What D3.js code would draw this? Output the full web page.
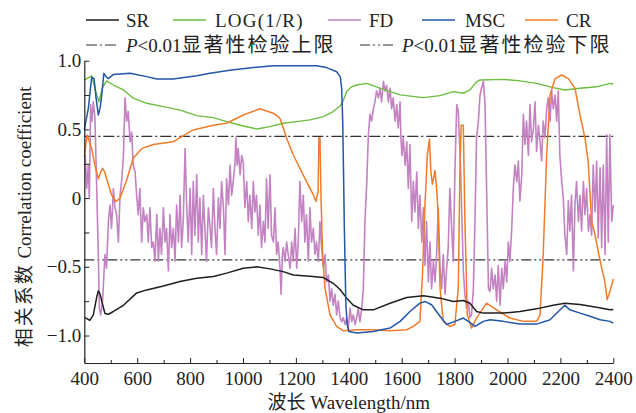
<!DOCTYPE html>
<html>
<head>
<meta charset="utf-8">
<script src="https://cdn.jsdelivr.net/npm/d3@7"></script>
<style>
  body { margin: 0; background: #fff; }
  svg { display: block; }
  text { font-family: "Liberation Serif", "Times New Roman", "Noto Sans CJK SC", serif; fill: #222; }
  .cjk { font-family: "Noto Sans CJK SC", sans-serif; }
</style>
</head>
<body>
<svg id="chart" width="636" height="413"></svg>
<script>
// данные, значения (длина волны нм, коэффициент корреляции)
const srData = [[403,-0.87],[421,-0.89],[434,-0.85],[447,-0.72],[453,-0.675],[460,-0.70],[466,-0.75],[478,-0.84],[491,-0.845],[510,-0.825],[548,-0.78],[598,-0.69],[636,-0.668],[699,-0.64],[762,-0.607],[825,-0.583],[888,-0.57],[938,-0.546],[1001,-0.51],[1052,-0.50],[1102,-0.515],[1152,-0.535],[1190,-0.559],[1253,-0.568],[1304,-0.578],[1341,-0.62],[1367,-0.665],[1392,-0.728],[1417,-0.78],[1455,-0.813],[1493,-0.813],[1556,-0.765],[1619,-0.723],[1682,-0.71],[1745,-0.728],[1795,-0.752],[1833,-0.745],[1858,-0.765],[1883,-0.825],[1909,-0.837],[1984,-0.837],[2047,-0.825],[2110,-0.806],[2173,-0.78],[2217,-0.765],[2274,-0.775],[2337,-0.795],[2387,-0.813],[2400,-0.81]];

const logData = [[400,0.86],[410,0.87],[428,0.89],[440,0.80],[455,0.70],[468,0.80],[484,0.853],[510,0.823],[548,0.787],[585,0.727],[636,0.69],[699,0.666],[762,0.64],[825,0.6],[888,0.586],[938,0.557],[1001,0.525],[1052,0.503],[1102,0.52],[1152,0.545],[1203,0.557],[1253,0.569],[1304,0.593],[1341,0.63],[1367,0.67],[1379,0.71],[1392,0.775],[1410,0.81],[1430,0.823],[1468,0.835],[1518,0.80],[1594,0.751],[1682,0.731],[1745,0.746],[1795,0.775],[1833,0.763],[1858,0.787],[1880,0.84],[1896,0.86],[1984,0.864],[2047,0.853],[2110,0.835],[2173,0.804],[2217,0.787],[2274,0.80],[2337,0.81],[2387,0.835],[2400,0.83]];

const fdData = [[403,0.31],[409,0.07],[415,0.24],[419,0.00],[424,0.68],[429,0.56],[434,0.70],[440,0.59],[447,0.07],[453,-0.41],[457,-0.80],[462,-0.85],[469,-0.75],[478,-0.41],[484,-0.51],[491,-0.17],[497,-0.05],[503,-0.22],[510,0.07],[516,-0.07],[522,-0.12],[529,-0.32],[535,0.02],[541,0.12],[548,0.31],[554,0.73],[560,0.56],[566,0.63],[573,0.41],[579,0.48],[585,0.24],[592,0.19],[598,0.02],[604,-0.12],[610,0.07],[617,-0.32],[623,-0.07],[629,-0.17],[636,-0.12],[642,-0.32],[648,-0.07],[655,-0.36],[661,-0.32],[667,-0.46],[674,-0.12],[680,-0.46],[686,-0.22],[692,-0.41],[699,-0.07],[705,-0.32],[711,-0.22],[718,-0.53],[724,-0.12],[730,-0.36],[737,-0.22],[743,-0.46],[749,-0.05],[756,-0.32],[762,0.02],[768,-0.36],[774,-0.17],[781,0.36],[787,-0.05],[793,-0.32],[800,0.07],[806,-0.41],[812,0.12],[818,-0.27],[825,0.17],[831,-0.32],[837,0.00],[844,-0.41],[850,0.02],[856,-0.22],[862,-0.46],[869,-0.07],[875,-0.2],[881,-0.36],[888,0.07],[894,-0.22],[900,-0.41],[907,0.00],[913,-0.22],[919,0.12],[926,-0.07],[932,-0.41],[938,0.14],[945,-0.05],[951,0.24],[957,0.02],[963,0.12],[970,0.26],[973,0.44],[978,0.24],[982,0.36],[989,0.17],[995,0.31],[1001,0.26],[1007,-0.07],[1014,0.12],[1020,-0.17],[1026,0.02],[1033,-0.22],[1039,0.12],[1045,-0.10],[1051,0.02],[1058,-0.27],[1064,-0.05],[1070,-0.36],[1077,-0.17],[1083,-0.32],[1089,0.14],[1095,-0.22],[1102,0.17],[1108,-0.27],[1115,-0.32],[1121,-0.07],[1127,-0.41],[1133,-0.32],[1140,-0.51],[1144,-0.70],[1149,-0.41],[1152,-0.36],[1159,-0.46],[1165,-0.32],[1171,-0.41],[1178,-0.51],[1184,-0.32],[1190,-0.46],[1197,-0.22],[1203,-0.51],[1209,-0.32],[1215,0.12],[1222,-0.17],[1228,0.02],[1234,-0.32],[1240,-0.12],[1247,-0.46],[1253,-0.07],[1259,-0.32],[1266,-0.22],[1272,-0.41],[1278,-0.32],[1285,-0.46],[1291,-0.17],[1297,-0.36],[1304,-0.51],[1310,-0.41],[1316,-0.61],[1323,-0.56],[1329,-0.75],[1335,-0.66],[1341,-0.78],[1348,-0.70],[1354,-0.85],[1360,-0.75],[1367,-0.87],[1373,-0.90],[1379,-0.87],[1386,-0.92],[1392,-0.87],[1398,-0.95],[1405,-0.80],[1411,-0.90],[1417,-0.85],[1424,-0.92],[1430,-0.87],[1436,-0.80],[1442,-0.90],[1449,-0.80],[1455,-0.66],[1461,-0.17],[1468,0.12],[1474,0.46],[1480,0.61],[1486,0.56],[1493,0.65],[1499,0.70],[1505,0.78],[1512,0.73],[1518,0.80],[1524,0.70],[1531,0.85],[1537,0.78],[1543,0.82],[1550,0.70],[1556,0.80],[1562,0.65],[1568,0.73],[1575,0.56],[1581,0.68],[1587,0.51],[1594,0.70],[1597,0.44],[1601,0.31],[1606,0.44],[1613,0.24],[1619,0.41],[1625,0.07],[1631,0.39],[1638,-0.17],[1644,0.12],[1650,-0.10],[1657,0.19],[1663,-0.22],[1669,0.02],[1676,-0.32],[1682,-0.07],[1688,-0.49],[1694,-0.17],[1701,-0.61],[1707,-0.32],[1713,-0.66],[1720,-0.46],[1726,-0.61],[1732,-0.41],[1738,-0.07],[1745,-0.51],[1751,-0.66],[1757,-0.41],[1764,-0.70],[1770,-0.51],[1776,-0.36],[1782,0.07],[1789,-0.22],[1795,-0.46],[1801,0.17],[1808,0.68],[1814,0.63],[1818,0.44],[1823,0.19],[1828,-0.17],[1833,-0.53],[1839,-0.70],[1845,-0.80],[1852,-0.75],[1858,-0.87],[1864,-0.85],[1871,-0.66],[1877,-0.17],[1883,0.44],[1890,0.56],[1896,0.75],[1902,0.80],[1909,0.85],[1915,0.68],[1921,0.07],[1928,-0.66],[1934,-0.68],[1940,-0.51],[1946,-0.66],[1953,-0.56],[1959,-0.75],[1965,-0.49],[1972,-0.78],[1978,-0.51],[1984,-0.66],[1991,-0.46],[1997,-0.61],[2003,-0.32],[2009,-0.46],[2016,-0.22],[2022,0.07],[2028,0.24],[2035,0.12],[2041,0.27],[2047,-0.02],[2054,0.17],[2060,0.61],[2066,0.39],[2072,0.56],[2079,0.31],[2085,0.68],[2091,0.41],[2098,0.51],[2104,0.70],[2110,0.34],[2117,0.53],[2123,0.41],[2129,0.27],[2135,0.56],[2142,0.44],[2148,0.65],[2154,0.73],[2161,0.56],[2167,0.78],[2173,0.65],[2180,0.75],[2186,0.56],[2192,0.78],[2198,0.31],[2205,0.12],[2211,0.00],[2217,-0.27],[2224,-0.41],[2230,-0.02],[2236,-0.24],[2242,0.02],[2249,-0.53],[2255,-0.05],[2261,0.12],[2268,-0.17],[2274,0.02],[2280,-0.24],[2287,0.12],[2293,-0.12],[2299,0.07],[2306,-0.24],[2312,-0.12],[2318,-0.27],[2324,0.24],[2331,-0.10],[2337,0.27],[2343,-0.29],[2350,0.22],[2356,-0.36],[2362,0.24],[2369,-0.41],[2375,0.46],[2381,-0.32],[2387,0.46],[2394,-0.17],[2400,-0.05]];

const mscData = [[400,0.50],[415,0.65],[428,0.88],[437,0.87],[445,0.72],[453,0.605],[460,0.66],[466,0.75],[474,0.908],[484,0.88],[491,0.87],[510,0.90],[573,0.908],[636,0.884],[674,0.867],[736,0.867],[825,0.89],[875,0.908],[913,0.92],[950,0.93],[1039,0.95],[1114,0.964],[1190,0.964],[1278,0.964],[1316,0.95],[1354,0.92],[1368,0.88],[1373,0.80],[1377,0.56],[1380,0.2],[1383,-0.2],[1386,-0.5],[1389,-0.776],[1394,-0.92],[1400,-0.97],[1430,-0.982],[1493,-0.97],[1556,-0.946],[1594,-0.897],[1631,-0.825],[1669,-0.764],[1688,-0.752],[1713,-0.776],[1745,-0.86],[1770,-0.92],[1801,-0.897],[1833,-0.873],[1852,-0.897],[1877,-0.934],[1909,-0.897],[1934,-0.885],[1984,-0.897],[2047,-0.917],[2110,-0.917],[2161,-0.885],[2192,-0.825],[2217,-0.78],[2236,-0.813],[2274,-0.837],[2312,-0.86],[2350,-0.885],[2387,-0.897],[2400,-0.91]];

const crData = [[400,0.30],[405,0.38],[411,0.46],[419,0.41],[428,0.36],[440,0.24],[453,0.14],[462,0.19],[469,0.217],[477,0.19],[484,0.145],[503,0.023],[520,-0.025],[535,0.0],[560,0.13],[585,0.29],[617,0.36],[661,0.39],[736,0.41],[762,0.44],[812,0.496],[888,0.53],[938,0.545],[1001,0.605],[1064,0.65],[1114,0.618],[1140,0.58],[1165,0.436],[1190,0.314],[1215,0.217],[1240,0.12],[1266,0.023],[1276,-0.025],[1284,0.05],[1287,0.44],[1291,0.44],[1295,0.0],[1301,-0.41],[1310,-0.655],[1329,-0.85],[1354,-0.934],[1379,-0.965],[1430,-0.958],[1493,-0.958],[1556,-0.966],[1619,-0.958],[1644,-0.934],[1669,-0.897],[1679,-0.534],[1688,-0.05],[1697,0.314],[1705,0.43],[1710,0.2],[1716,0.10],[1726,0.20],[1732,0.07],[1738,-0.12],[1745,-0.655],[1757,-0.897],[1782,-0.934],[1801,-0.92],[1814,-0.655],[1820,0.19],[1825,0.53],[1833,0.53],[1839,-0.17],[1848,-0.85],[1864,-0.946],[1883,-0.873],[1921,-0.764],[1959,-0.813],[2009,-0.873],[2060,-0.897],[2110,-0.897],[2123,-0.85],[2135,-0.41],[2148,0.314],[2161,0.75],[2180,0.87],[2205,0.896],[2230,0.87],[2255,0.80],[2274,0.605],[2293,0.436],[2305,0.266],[2318,-0.17],[2331,-0.267],[2343,-0.388],[2356,-0.51],[2368,-0.606],[2377,-0.74],[2387,-0.68],[2400,-0.588]];

// пороги P<0.01
const upperLimit = 0.45;
const lowerLimit = -0.45;

const xTickValues = [400, 600, 800, 1000, 1200, 1400, 1600, 1800, 2000, 2200, 2400];
const yTickValues = [1, 0.5, 0, -0.5, -1];
const yTickLabels = ["1.0", "0.5", "0", "\u22120.5", "\u22121.0"];

const series = [
    { name: "SR", data: srData, color: "#1e1e1e", width: 1.5 },
    { name: "LOG(1/R)", data: logData, color: "#6dbd3f", width: 1.4 },
    { name: "FD", data: fdData, color: "#c383c2", width: 1.6 },
    { name: "MSC", data: mscData, color: "#2356a8", width: 1.5 },
    { name: "CR", data: crData, color: "#f27b2a", width: 1.5 }
];

const svg = d3.select("#chart");

// область графика
const area = { left: 84.3, right: 613.3, top: 60.7, bottom: 363 };

const scX = d3.scaleLinear().domain([400, 2400]).range([area.left, area.right]);
const scY = d3.scaleLinear().domain([-1.2, 1.0]).range([area.bottom, area.top]);

// пороговые линии
const limits = [
    { v: upperLimit, dash: "11,3,2,3" },
    { v: lowerLimit, dash: "10,3,2,3,2,3" }
];
svg.selectAll(".limit")
    .data(limits)
    .enter()
    .append("line")
    .attr("x1", area.left)
    .attr("x2", area.right)
    .attr("y1", d => scY(d.v))
    .attr("y2", d => scY(d.v))
    .attr("stroke", "#333")
    .attr("stroke-width", 1.2)
    .attr("stroke-dasharray", d => d.dash);

// кривые
const line = d3.line()
    .x(d => scX(d[0]))
    .y(d => scY(d[1]));

// порядок отрисовки: FD снизу
const drawOrder = [2, 1, 4, 0, 3];
drawOrder.forEach(i => {
    svg.append("path")
        .datum(series[i].data)
        .attr("d", line)
        .attr("fill", "none")
        .attr("stroke", series[i].color)
        .attr("stroke-width", series[i].width)
        .attr("stroke-linejoin", "round");
});

// оси
const gx = svg.append("g")
    .attr("transform", `translate(0, ${area.bottom})`)
    .call(d3.axisBottom(scX).tickValues(xTickValues).tickFormat(d3.format("d"))
        .tickSizeInner(-5).tickSizeOuter(0).tickPadding(9));
gx.append("g")
    .call(d3.axisBottom(scX).tickValues(d3.range(500, 2400, 200)).tickFormat("")
        .tickSizeInner(-3).tickSizeOuter(0))
    .select(".domain").remove();

const gy = svg.append("g")
    .attr("transform", `translate(${area.left}, 0)`)
    .call(d3.axisLeft(scY).tickValues(yTickValues).tickFormat((d, i) => yTickLabels[i])
        .tickSizeInner(-5).tickSizeOuter(0).tickPadding(3));
gy.append("g")
    .call(d3.axisLeft(scY).tickValues([0.75, 0.25, -0.25, -0.75]).tickFormat("")
        .tickSizeInner(-5).tickSizeOuter(0))
    .select(".domain").remove();

svg.selectAll(".domain").attr("stroke", "#222").attr("stroke-width", 1.2);
svg.selectAll(".tick line").attr("stroke", "#222").attr("stroke-width", 1);
svg.selectAll(".tick text")
    .style("font-family", '"Liberation Serif", "Times New Roman", serif')
    .style("font-size", "19px")
    .attr("fill", "#222");

// подписи осей
const xTitle = svg.append("text")
    .attr("x", (area.left + area.right) / 2)
    .attr("y", 409)
    .attr("text-anchor", "middle")
    .style("font-size", "19px");
xTitle.append("tspan").attr("class", "cjk").style("font-size", "19px").text("波长");
xTitle.append("tspan").text(" Wavelength/nm");

const yTitle = svg.append("text")
    .attr("transform", `translate(31, ${(area.top + area.bottom) / 2 + 5}) rotate(-90)`)
    .attr("text-anchor", "middle")
    .style("font-size", "19px");
yTitle.append("tspan").attr("class", "cjk").style("font-size", "19px").style("letter-spacing", "2px").text("相关系数");
yTitle.append("tspan").text(" Correlation coefficient");

// легенда
const legendRow1 = [
    { s: series[0], x: 86, tx: 126 },
    { s: series[1], x: 173, tx: 215 },
    { s: series[2], x: 328, tx: 369 },
    { s: series[3], x: 422, tx: 465 },
    { s: series[4], x: 525, tx: 566 }
];
legendRow1.forEach(d => {
    svg.append("line")
        .attr("x1", d.x).attr("x2", d.x + 33)
        .attr("y1", 20).attr("y2", 20)
        .attr("stroke", d.s.color).attr("stroke-width", 1.6);
    svg.append("text")
        .attr("x", d.tx).attr("y", 27)
        .style("font-size", "19px")
        .style("letter-spacing", d.s.name === "LOG(1/R)" ? "1.2px" : "0px")
        .text(d.s.name);
});

const legendRow2 = [
    { x: 86, tx: 126, dash: limits[0].dash, label: "显著性检验上限" },
    { x: 360, tx: 402, dash: limits[1].dash, label: "显著性检验下限" }
];
legendRow2.forEach(d => {
    svg.append("line")
        .attr("x1", d.x).attr("x2", d.x + 33)
        .attr("y1", 45).attr("y2", 45)
        .attr("stroke", "#333").attr("stroke-width", 1.2)
        .attr("stroke-dasharray", d.dash);
    const t = svg.append("text")
        .attr("x", d.tx).attr("y", 52)
        .style("font-size", "19px");
    t.append("tspan").style("font-style", "italic").text("P");
    t.append("tspan").text("<0.01");
    t.append("tspan").attr("class", "cjk").style("font-size", "20px").style("letter-spacing", "2px").text(d.label);
});
</script>
</body>
</html>
